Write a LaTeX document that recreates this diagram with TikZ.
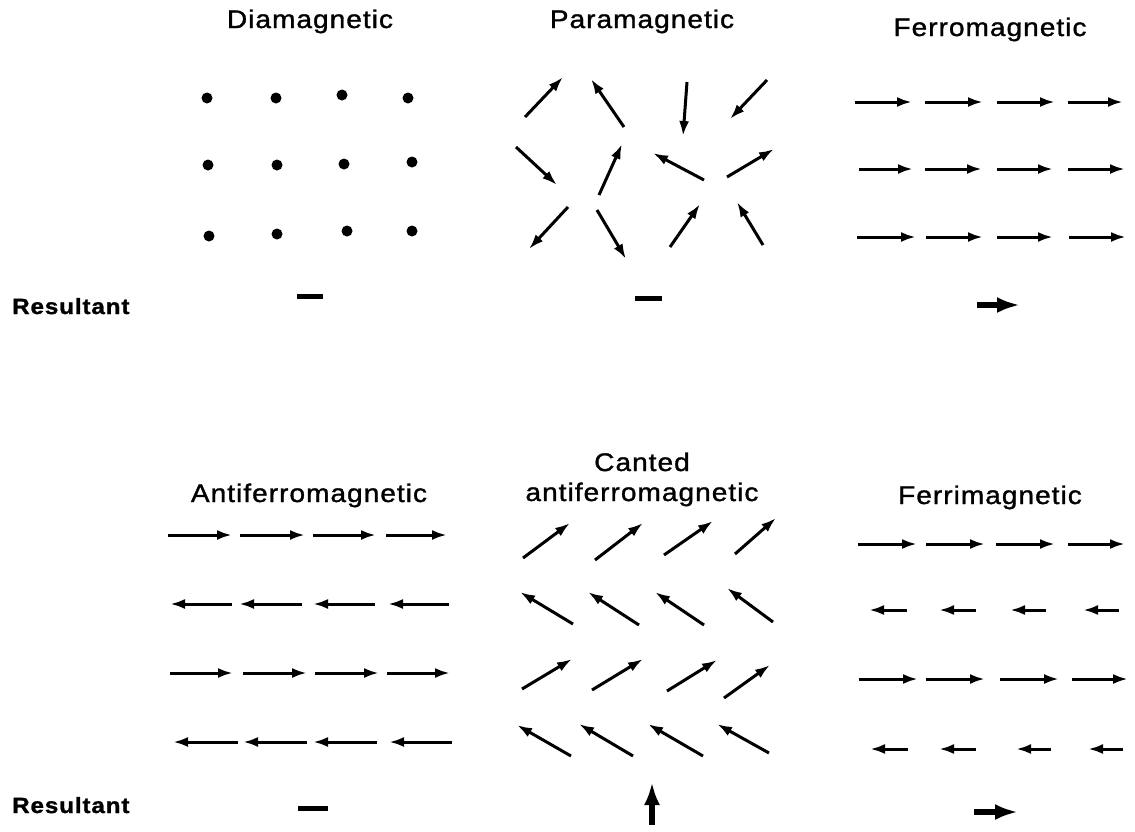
\documentclass[tikz,border=0pt]{standalone}
\usepackage{fontspec}
\setmainfont{Liberation Sans}
\newfontfamily\labelfont[FakeStretch=1.1,LetterSpace=4,FakeBold=1.2]{Liberation Sans}
\newfontfamily\resfont[FakeStretch=1.1,LetterSpace=4,FakeBold=1.2]{Liberation Sans}
\usetikzlibrary{arrows.meta}

\begin{document}
\begin{tikzpicture}[x=1pt,y=-1pt,
    spin/.style={line width=3pt,-{Latex[length=15pt,width=10pt]}},
    netspin/.style={line width=5.5pt,-{Latex[length=23pt,width=16pt]}},
    nospin/.style={line width=5pt},
    atom/.style={circle,fill,inner sep=0pt,minimum size=11pt},
    title/.style={font=\labelfont\fontsize{25.5}{30}\selectfont,align=center,anchor=base},
    result/.style={font=\resfont\bfseries\fontsize{22}{24}\selectfont,anchor=base west,inner sep=0}]
    \useasboundingbox (0,0) rectangle (1135,831);
    % titles
    \node[title] (dia) at (310,28) {Diamagnetic};
    \node[title] (para) at (642,28) {Paramagnetic};
    \node[title] (ferro) at (990,36) {Ferromagnetic};
    \node[title] (afm) at (309,502) {Antiferromagnetic};
    \node[title] (canted) at (642,501) {Canted\\antiferromagnetic};
    \node[title] (ferri) at (990,504) {Ferrimagnetic};
    \node[result] (restop) at (12,314) {Resultant};
    \node[result] (resbot) at (12,813) {Resultant};
    % diamagnetic
    \foreach \x/\y [count=\i] in {207/98,276/98,342/95,408/98,208/165,277/165,344/164,412/162,209/236,277/234,347/231,412/231}
        \node[atom] (d\i) at (\x,\y) {};
    \draw[nospin] (297,296) -- (323,296);
    % paramagnetic
    \foreach \xa/\ya/\xb/\yb in {525/117/563/77, 624/127/591/79, 687/82/683/136, 767/80/730/119,
                                 516/147/557/185, 599/195/622/144, 704/180/653/153, 727/177/774/149,
                                 568/207/529/249, 597/210/626/259, 670/247/700/204, 763/245/737/202}
        \draw[spin] (\xa,\ya) -- (\xb,\yb);
    \draw[nospin] (635,298) -- (662,298);
    % ferromagnetic
    \foreach \xa/\xb/\y in {855/912/102, 925/983/102, 997/1055/102, 1068/1123/102,
                            859/913/169, 925/982/169, 997/1053/169, 1068/1125/169,
                            857/916/237, 926/983/237, 997/1053/237, 1069/1126/237}
        \draw[spin] (\xa,\y) -- (\xb,\y);
    \draw[netspin] (977,305) -- (1020,305);
    % antiferromagnetic
    \foreach \xa/\xb/\y in {168/232/535, 240/305/535, 313/376/535, 386/447/535,
                            232/170/604, 302/239/604, 375/313/604, 449/388/604,
                            170/233/673, 243/307/673, 315/379/673, 387/450/673,
                            238/173/742, 307/243/742, 377/313/742, 452/389/742}
        \draw[spin] (\xa,\y) -- (\xb,\y);
    \draw[nospin] (298,808) -- (328,808);
    % canted antiferromagnetic
    \foreach \xa/\ya/\xb/\yb in {523/558/570/523, 595/560/643/523, 664/555/713/521, 735/554/776/518,
                                 573/624/520/592, 639/625/588/592, 704/625/655/592, 773/622/727/588,
                                 522/689/572/659, 592/690/643/659, 667/691/717/660, 724/698/770/665,
                                 571/756/517/725, 633/756/579/724, 703/756/648/724, 769/753/717/724}
        \draw[spin] (\xa,\ya) -- (\xb,\yb);
    \draw[netspin] (652,825) -- (652,782);
    % ferrimagnetic
    \foreach \xa/\xb/\y in {858/917/544, 926/985/544, 996/1055/544, 1068/1125/544,
                            907/869/610, 976/939/610, 1046/1010/610, 1119/1083/610,
                            859/918/679, 926/985/679, 1000/1059/679, 1072/1128/679,
                            908/870/749, 976/939/749, 1051/1016/749, 1123/1088/749}
        \draw[spin] (\xa,\y) -- (\xb,\y);
    \draw[netspin] (974,812) -- (1018,812);
\end{tikzpicture}
\end{document}
